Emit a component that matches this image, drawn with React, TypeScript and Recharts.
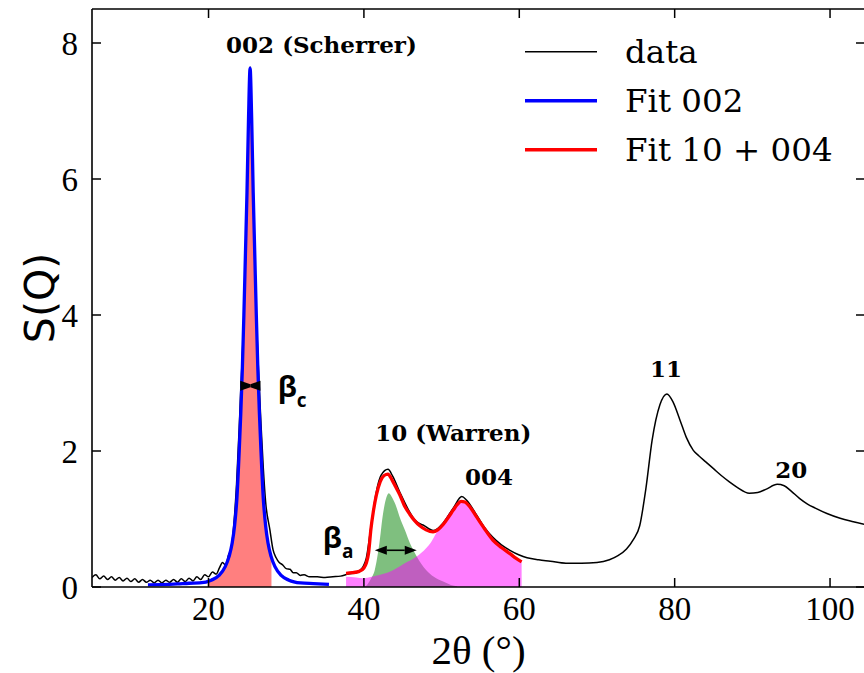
import { Area, ComposedChart, Label, Legend, Line, ReferenceDot, ReferenceLine, XAxis, YAxis } from 'recharts'

// measured S(Q) curve
const DATA_X = [
  5, 5.5, 6, 6.5, 7, 7.5, 8, 8.5, 9, 9.5, 10, 10.5, 11, 11.5, 12, 12.5, 13, 13.5, 14, 14.5,
  15, 15.5, 16, 16.5, 17, 17.5, 18, 18.5, 19, 19.5, 20, 20.5, 21, 21.4, 21.8, 22.2, 22.6, 22.9,
  23.3, 23.6, 23.95, 24.15, 24.35, 24.55, 24.75, 24.95, 25.15, 25.35, 25.55, 25.75, 25.95, 26.15,
  26.35, 26.55, 26.75, 27.05, 27.35, 27.9, 28.3, 28.7, 29.1, 29.5, 30, 30.5, 30.9, 31.3, 31.8,
  32.3, 33, 34, 35, 36, 37, 38, 39, 39.4, 39.9, 40.3, 40.9, 41.6, 42.2, 43.1, 43.7, 44.6, 45.9,
  46.6, 47.2, 47.8, 48.3, 48.9, 49.5, 50.2, 51.5, 52.6, 53.2, 54.5, 55.5, 56.6, 57.7, 58.8, 60,
  61, 62.5, 64, 66, 68, 70, 71.6, 72.7, 73.8, 74.7, 75.5, 76.3, 77.1, 78.1, 79, 79.8, 80.7,
  81.5, 82.4, 83.1, 84, 85, 86, 87, 88, 89.6, 90.7, 91.8, 93.2, 94.1, 95, 96.1, 97.1, 98.1, 99.6,
  101.3, 103, 104.5,
]
const DATA_Y = [
  0.14, 0.18, 0.12, 0.16, 0.11, 0.15, 0.1, 0.14, 0.09, 0.13, 0.08, 0.12, 0.07, 0.11, 0.07, 0.1,
  0.06, 0.1, 0.06, 0.1, 0.07, 0.11, 0.07, 0.12, 0.08, 0.13, 0.09, 0.15, 0.11, 0.18, 0.15, 0.22,
  0.19, 0.28, 0.36, 0.32, 0.48, 0.56, 0.98, 1.5, 2.35, 2.9, 3.4, 4.0, 4.8, 5.8, 6.9, 7.65, 6.9,
  5.8, 4.8, 4.0, 3.4, 2.9, 2.4, 1.75, 1.25, 0.84, 0.55, 0.43, 0.36, 0.33, 0.27, 0.26, 0.21, 0.21,
  0.17, 0.18, 0.15, 0.15, 0.14, 0.15, 0.16, 0.19, 0.21, 0.24, 0.3, 0.42, 0.88, 1.4, 1.64, 1.73,
  1.63, 1.4, 1.1, 0.98, 0.93, 0.9, 0.86, 0.83, 0.86, 0.94, 1.16, 1.33, 1.28, 1.06, 0.88, 0.73,
  0.62, 0.54, 0.47, 0.43, 0.4, 0.38, 0.35, 0.35, 0.36, 0.4, 0.46, 0.56, 0.7, 0.9, 1.45, 2.16,
  2.68, 2.84, 2.72, 2.45, 2.2, 2.01, 1.93, 1.84, 1.74, 1.64, 1.55, 1.47, 1.38, 1.39, 1.44, 1.51,
  1.49, 1.41, 1.3, 1.22, 1.16, 1.08, 1.01, 0.96, 0.92,
]

// 002 fit (Scherrer)
const FIT002_X = [
  12.2, 14, 16, 17.5, 18.85, 20.35, 21.35, 22.15, 22.65, 23.05, 23.35, 23.65, 23.95, 24.15, 24.35,
  24.55, 24.75, 24.95, 25.15, 25.35, 25.55, 25.75, 25.95, 26.15, 26.35, 26.55, 26.75, 27.05,
  27.35, 27.65, 28.05, 28.55, 29.35, 30.35, 31.85, 33.5, 35.5,
]
const FIT002_Y = [
  0.03, 0.035, 0.045, 0.055, 0.06, 0.1, 0.17, 0.3, 0.45, 0.65, 0.9, 1.3, 2.0, 2.55, 3.2, 4.0, 4.9,
  5.8, 6.9, 7.63, 6.9, 5.8, 4.9, 4.0, 3.2, 2.55, 2.0, 1.3, 0.9, 0.65, 0.45, 0.3, 0.17, 0.1, 0.06,
  0.05, 0.04,
]
const FILL002_X = [19.9, 20.35, 21.35, 22.15, 22.65, 23.05, 23.35, 23.65, 23.95, 24.15, 24.35,
  24.55, 24.75, 24.95, 25.15, 25.35, 25.55, 25.75, 25.95, 26.15, 26.35, 26.55, 26.75, 27.05,
  27.35, 27.65, 28.05, 28.1]
const FILL002_Y = [0.09, 0.1, 0.17, 0.3, 0.45, 0.65, 0.9, 1.3, 2.0, 2.55, 3.2, 4.0, 4.9, 5.8, 6.9,
  7.63, 6.9, 5.8, 4.9, 4.0, 3.2, 2.55, 2.0, 1.3, 0.9, 0.65, 0.45, 0.44]

// 10 + 004 fit (Warren)
const FIT10_X = [
  37.7, 38.5, 39.4, 40, 40.3, 40.6, 40.9, 41.2, 41.6, 42.1, 42.6, 43.1, 43.6, 44.1, 44.6, 45.2,
  45.9, 46.5, 47.2, 48, 48.9, 49.5, 50.2, 50.9, 51.5, 52, 52.5, 53, 53.7, 54.5, 55.5, 56.6, 57.7,
  58.8, 59.6, 60.3,
]
const FIT10_Y = [
  0.2, 0.21, 0.23, 0.28, 0.35, 0.5, 0.85, 1.1, 1.35, 1.55, 1.64, 1.66, 1.58, 1.47, 1.36, 1.2,
  1.07, 0.98, 0.9, 0.84, 0.81, 0.84, 0.92, 1.03, 1.13, 1.21, 1.26, 1.25, 1.17, 1.03, 0.86, 0.69,
  0.58, 0.49, 0.42, 0.37,
]
const PEAK10_X = [39.8, 40.3, 40.9, 41.4, 42, 42.4, 42.8, 43.2, 43.7, 44.2, 44.6, 45.3, 45.9,
  46.8, 47.4, 48, 49, 50.2, 51.2, 52]
const PEAK10_Y = [0, 0.02, 0.12, 0.25, 0.65, 1.03, 1.28, 1.38, 1.3, 1.17, 1.03, 0.83, 0.65, 0.45,
  0.34, 0.25, 0.15, 0.08, 0.03, 0.01]
const PEAK004_X = [37.7, 39, 39.9, 41, 42.1, 43, 43.8, 44.7, 45.6, 46.8, 48, 48.7, 49.3, 50, 50.6,
  51.3, 51.9, 52.5, 53.2, 54.1, 55, 55.8, 56.8, 57.9, 59.1, 60.3]
const PEAK004_Y = [0.15, 0.14, 0.13, 0.15, 0.18, 0.21, 0.25, 0.31, 0.37, 0.45, 0.57, 0.67, 0.79,
  0.91, 1.03, 1.14, 1.23, 1.28, 1.24, 1.13, 0.98, 0.84, 0.71, 0.59, 0.47, 0.37]

const X_TICKS = [20, 40, 60, 80, 100]
const Y_TICKS = [0, 2, 4, 6, 8]
const Y_MAX = 8.5
const TICK_LEN = 9 / 68 // inward x-tick length, in S(Q) units

const LEGEND = [
  { name: 'data', color: '#000000', width: 1.5 },
  { name: 'Fit 002', color: '#0000ff', width: 3.5 },
  { name: 'Fit 10 + 004', color: '#ff0000', width: 3.5 },
]

const PEAK_LABELS = [
  { text: '002 (Scherrer)', x: 34.54, y: 7.85 },
  { text: '10 (Warren)', x: 51.5, y: 2.14 },
  { text: '004', x: 56.1, y: 1.5 },
  { text: '11', x: 78.9, y: 3.09 },
  { text: '20', x: 95.0, y: 1.61 },
]

const zip = (xs: number[], ys: number[]) => xs.map((x, i) => ({ x, y: ys[i] }))

const data = zip(DATA_X, DATA_Y)
const fit002 = zip(FIT002_X, FIT002_Y)
const fill002 = zip(FILL002_X, FILL002_Y)
const fit10 = zip(FIT10_X, FIT10_Y)
const peak10 = zip(PEAK10_X, PEAK10_Y)
const peak004 = zip(PEAK004_X, PEAK004_Y)

const SERIF = 'Liberation Serif, Times New Roman, serif'
const tickFont = { fontSize: 33, fill: '#000', fontFamily: SERIF }
const spine = { stroke: '#000', strokeWidth: 1.6 }
const tickMark = { stroke: '#000', strokeWidth: 1.5 }
const NoLabel = () => <g />

function Bowtie(p: any) {
  const { x1, y1, x2 } = p
  const mid = (x1 + x2) / 2
  return (
    <g fill="#000">
      <polygon points={`${x1},${y1 - 5} ${mid},${y1 - 1.5} ${mid},${y1 + 1.5} ${x1},${y1 + 5}`} />
      <polygon points={`${x2},${y1 - 5} ${mid},${y1 - 1.5} ${mid},${y1 + 1.5} ${x2},${y1 + 5}`} />
    </g>
  )
}

function DoubleArrow(p: any) {
  const { x1, y1, x2 } = p
  const L = 12
  const W = 4.5
  return (
    <g fill="#000">
      <line x1={x1 + L} y1={y1} x2={x2 - L} y2={y1} stroke="#000" strokeWidth={1.6} />
      <polygon points={`${x1},${y1} ${x1 + L},${y1 - W} ${x1 + L},${y1 + W}`} />
      <polygon points={`${x2},${y1} ${x2 - L},${y1 - W} ${x2 - L},${y1 + W}`} />
    </g>
  )
}

function BetaLabel(sub: string) {
  return (p: any) => (
    <text x={p.cx} y={p.cy} fontFamily="Open Sans, sans-serif" fontWeight={700} fontSize={29} fill="#000">
      β<tspan fontSize={19} dy={10}>{sub}</tspan>
    </text>
  )
}

function PeakText(text: string) {
  return (p: any) => (
    <text x={p.cx} y={p.cy} textAnchor="middle" fontFamily="DejaVu Serif, serif" fontWeight={700} fontSize={23} fill="#000">
      {text}
    </text>
  )
}

function LegendBox() {
  return (
    <svg width={340} height={150}>
      {LEGEND.map((l, i) => (
        <g key={l.name}>
          <line x1={5} x2={77} y1={31.7 + i * 49} y2={31.7 + i * 49} stroke={l.color} strokeWidth={l.width} />
          <text x={105} y={43 + i * 49} fontFamily="DejaVu Serif, serif" fontSize={32.5} fill="#000">{l.name}</text>
        </g>
      ))}
    </svg>
  )
}

export default function App() {
  return (
    <div style={{ position: 'absolute', left: 0, top: 0, width: 864, height: 673, overflow: 'hidden', background: '#fff' }}>
      <ComposedChart width={870} height={673} margin={{ top: 9, right: 5, bottom: 0, left: 32 }}>
        <XAxis
          xAxisId="x" type="number" dataKey="x" domain={[5, 104.5]} ticks={X_TICKS} allowDataOverflow
          height={86} tickLine={false} tickSize={0} tickMargin={10} axisLine={spine} tick={tickFont}
          label={<Label content={(p: any) => {
            const vb = p.viewBox
            return (
              <text x={vb.x + vb.width / 2} y={vb.y + 77} textAnchor="middle" fontFamily={SERIF} fontSize={41} fill="#000">
                2θ (°)
              </text>
            )
          }} />}
        />
        <XAxis xAxisId="xt" orientation="top" type="number" domain={[5, 104.5]} ticks={X_TICKS} allowDataOverflow mirror
          tick={NoLabel} tickLine={false} axisLine={spine} />
        <YAxis
          yAxisId="y" type="number" domain={[0, Y_MAX]} ticks={Y_TICKS} allowDataOverflow width={60}
          tickLine={false} tickSize={0} tickMargin={14} axisLine={spine} tick={tickFont}
          label={<Label content={(p: any) => {
            const vb = p.viewBox
            const cx = vb.x + 8
            const cy = vb.y + vb.height / 2
            return (
              <text x={cx} y={cy} transform={`rotate(-90 ${cx} ${cy})`} textAnchor="middle" dominantBaseline="central"
                fontFamily="DejaVu Sans, sans-serif" fontSize={41} fill="#000">
                S(Q)
              </text>
            )
          }} />}
        />
        <YAxis yAxisId="yl" type="number" domain={[0, Y_MAX]} ticks={Y_TICKS} allowDataOverflow mirror
          tick={NoLabel} tickSize={9} tickLine={tickMark} axisLine={false} />
        <YAxis yAxisId="yr" orientation="right" type="number" domain={[0, Y_MAX]} ticks={Y_TICKS} allowDataOverflow mirror
          tick={NoLabel} tickSize={9} tickLine={tickMark} axisLine={spine} />

        <Legend verticalAlign="middle" align="center" layout="horizontal"
          wrapperStyle={{ left: 520, top: 20, width: 340, height: 150 }} content={LegendBox} />

        <Area xAxisId="x" yAxisId="y" data={fill002} dataKey="y" type="monotone" stroke="none"
          fill="#ff0000" fillOpacity={0.5} isAnimationActive={false} dot={false} activeDot={false} />
        <Area xAxisId="x" yAxisId="y" data={peak10} dataKey="y" type="monotone" stroke="none"
          fill="#008000" fillOpacity={0.5} isAnimationActive={false} dot={false} activeDot={false} />
        <Area xAxisId="x" yAxisId="y" data={peak004} dataKey="y" type="monotone" stroke="none"
          fill="#ff00ff" fillOpacity={0.5} isAnimationActive={false} dot={false} activeDot={false} />

        <Line xAxisId="x" yAxisId="y" data={data} dataKey="y" name="data" type="monotone" stroke="#000"
          strokeWidth={1.5} dot={false} activeDot={false} isAnimationActive={false} />
        <Line xAxisId="x" yAxisId="y" data={fit002} dataKey="y" name="Fit 002" type="monotone" stroke="#0000ff"
          strokeWidth={3.3} dot={false} activeDot={false} isAnimationActive={false} />
        <Line xAxisId="x" yAxisId="y" data={fit10} dataKey="y" name="Fit 10 + 004" type="monotone" stroke="#ff0000"
          strokeWidth={3.3} dot={false} activeDot={false} isAnimationActive={false} />

        {/* inward x ticks on bottom and top spines */}
        {X_TICKS.map(t => (
          <ReferenceLine key={`b${t}`} xAxisId="x" yAxisId="y" segment={[{ x: t, y: 0 }, { x: t, y: TICK_LEN }]}
            stroke="#000" strokeWidth={1.5} />
        ))}
        {X_TICKS.map(t => (
          <ReferenceLine key={`t${t}`} xAxisId="x" yAxisId="y" segment={[{ x: t, y: Y_MAX - TICK_LEN }, { x: t, y: Y_MAX }]}
            stroke="#000" strokeWidth={1.5} />
        ))}

        <ReferenceLine xAxisId="x" yAxisId="y" segment={[{ x: 24.08, y: 2.96 }, { x: 26.69, y: 2.96 }]} shape={Bowtie} />
        <ReferenceLine xAxisId="x" yAxisId="y" segment={[{ x: 41.4, y: 0.54 }, { x: 46.8, y: 0.54 }]} shape={DoubleArrow} />
        <ReferenceDot xAxisId="x" yAxisId="y" x={28.9} y={2.8} r={0} shape={BetaLabel('c')} />
        <ReferenceDot xAxisId="x" yAxisId="y" x={34.7} y={0.58} r={0} shape={BetaLabel('a')} />
        {PEAK_LABELS.map(l => (
          <ReferenceDot key={l.text} xAxisId="x" yAxisId="y" x={l.x} y={l.y} r={0} shape={PeakText(l.text)} />
        ))}
      </ComposedChart>
    </div>
  )
}
